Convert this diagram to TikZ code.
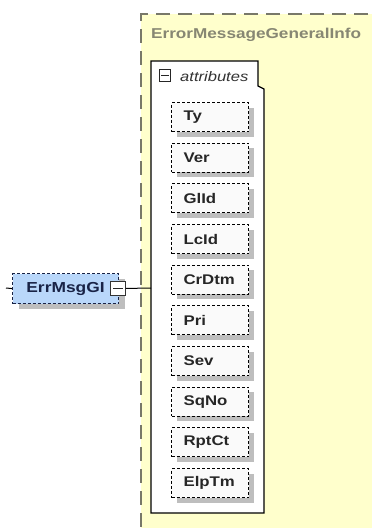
\documentclass[tikz,border=0pt]{standalone}
\usepackage{fontspec}
\setmainfont{Liberation Sans}[FakeStretch=1.2]
\usetikzlibrary{shadows}
\definecolor{bgyellow}{RGB}{255,255,204}
\definecolor{grpborder}{RGB}{120,120,105}
\definecolor{grptitle}{RGB}{135,135,115}
\definecolor{shadowgray}{RGB}{190,190,190}
\definecolor{elemblue}{RGB}{185,215,250}
\definecolor{elemtext}{RGB}{25,35,70}
\definecolor{attrfill}{RGB}{250,250,250}
\tikzset{
  attrbox/.style={draw=black, line width=1.1pt, dash pattern=on 3pt off 2pt,
    fill=attrfill, anchor=north west, minimum height=29pt,
    inner xsep=12pt, inner ysep=0pt, text width=53pt, align=left,
    font=\fontsize{14}{16}\selectfont\bfseries, text=black!85,
    drop shadow={shadow xshift=5pt, shadow yshift=-5pt, opacity=1, fill=shadowgray}},
  elembox/.style={draw=elemtext, line width=1.1pt, dash pattern=on 3pt off 2pt,
    fill=elemblue, anchor=north west, minimum width=106pt, minimum height=30pt,
    inner sep=0pt, font=\fontsize{14.5}{17}\selectfont\bfseries, text=elemtext,
    drop shadow={shadow xshift=6pt, shadow yshift=-5pt, opacity=1, fill=shadowgray}},
  minusbox/.style={draw=black!80, line width=0.9pt, fill=white, anchor=north west,
    minimum width=15pt, minimum height=14pt, inner sep=0pt},
  conn/.style={draw=black, line width=1pt},
}
\begin{document}
\begin{tikzpicture}[x=1pt,y=-1pt]
\useasboundingbox (0,0) rectangle (372,528);
\clip (0,0) rectangle (372,528);
% group box
\fill[bgyellow] (141,14) rectangle (390,545);
\draw[grpborder, line width=1.1pt, dash pattern=on 14pt off 8pt] (390,14) -- (141,14) -- (141,545);
\node[anchor=base west, inner sep=0pt, text=grptitle, font=\fontsize{14.3}{16}\selectfont\bfseries] (title) at (151,38) {ErrorMessageGeneralInfo};
% attributes container
\draw[fill=white, line width=1.3pt] (151,61) -- (258,61) -- (258,86) -- (264,89) -- (264,513) -- (151,513) -- cycle;
\node[draw=black!85, line width=0.9pt, fill=white, anchor=north west, minimum width=11pt, minimum height=12pt, inner sep=0pt] (amin) at (159,69) {};
\draw[black!85, line width=0.9pt] ([xshift=2pt]amin.west) -- ([xshift=-2pt]amin.east);
\node[anchor=base west, inner sep=0pt, font=\fontsize{13.8}{16}\selectfont\itshape, text=black!80] (attrlabel) at (180,81) {attributes};
% attribute boxes
\node[attrbox] (ty) at (171,102) {Ty};
\node[attrbox] (ver) at (171,142.67) {Ver};
\node[attrbox] (glid) at (171,183.33) {GlId};
\node[attrbox] (lcid) at (171,224) {LcId};
\node[attrbox] (crdtm) at (171,264.67) {CrDtm};
\node[attrbox] (pri) at (171,305.33) {Pri};
\node[attrbox] (sev) at (171,346) {Sev};
\node[attrbox] (sqno) at (171,386.67) {SqNo};
\node[attrbox] (rptct) at (171,427.33) {RptCt};
\node[attrbox] (elptm) at (171,468) {ElpTm};
% element
\node[elembox] (errmsg) at (12,273) {ErrMsgGI};
\node[minusbox] (emin) at (110,281) {};
\draw[black!85, line width=0.9pt] ([xshift=3pt]emin.west) -- ([xshift=-3pt]emin.east);
\coordinate (stub) at (6,288);
\coordinate (attrL) at (151,288);
\draw[conn] (stub) -- (errmsg.west);
\draw[conn] (emin.east) -- (attrL);
\end{tikzpicture}
\end{document}
